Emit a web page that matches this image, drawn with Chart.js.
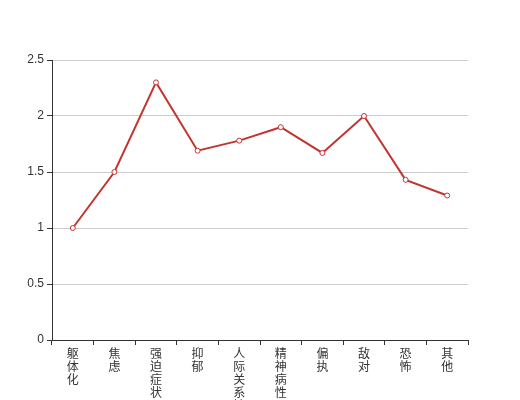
<!DOCTYPE html>
<html>
<head>
<meta charset="utf-8">
<script src="https://cdn.jsdelivr.net/npm/chart.js@4"></script>
<style>
html,body{margin:0;padding:0;background:#fff;}
canvas{display:block;}
</style>
</head>
<body>
<canvas id="c" width="520" height="400"></canvas>
<script>
const categories = ['躯体化','焦虑','强迫症状','抑郁','人际关系敏感','精神病性','偏执','敌对','恐怖','其他'];
const values = [1.0, 1.5, 2.3, 1.69, 1.78, 1.9, 1.67, 2.0, 1.43, 1.29];
const yTicks = [0, 0.5, 1, 1.5, 2, 2.5];

new Chart(document.getElementById('c'), {
  type: 'line',
  data: {
    labels: categories,
    datasets: [{
      data: values,
      borderColor: '#c23531',
      borderWidth: 2,
      backgroundColor: '#fff',
      pointBackgroundColor: '#fff',
      pointBorderColor: '#c23531',
      pointBorderWidth: 1,
      pointRadius: 2.5,
      tension: 0,
      fill: false
    }]
  },
  options: {
    responsive: false,
    animation: false,
    layout: { padding: { top: 60, right: 52, left: 0, bottom: 0 } },
    plugins: { legend: { display: false }, tooltip: { enabled: false } },
    scales: {
      x: {
        type: 'category',
        offset: true,
        afterFit: s => { s.height = 60; },
        border: { display: true, color: '#333', width: 1 },
        grid: { offset: true, drawOnChartArea: false, drawTicks: true, tickLength: 5, color: '#333', lineWidth: 1 },
        ticks: {
          autoSkip: false, maxRotation: 0, minRotation: 0, padding: 2,
          color: '#333',
          font: { family: '"Noto Sans CJK SC", sans-serif', size: 12, lineHeight: '13px' },
          callback: function(v) { return this.getLabelForValue(v).split(''); }
        }
      },
      y: {
        min: yTicks[0], max: yTicks[yTicks.length - 1],
        afterFit: s => { s.width = 52; },
        afterBuildTicks: s => { s.ticks = yTicks.map(v => ({ value: v })); },
        border: { display: true, color: '#333', width: 1 },
        grid: { color: '#ccc', lineWidth: 1, tickLength: 5, tickColor: '#333', drawTicks: true },
        ticks: {
          padding: 3, color: '#333',
          font: { family: 'sans-serif', size: 12 },
          callback: v => String(+v.toFixed(2))
        }
      }
    }
  }
});
</script>
</body>
</html>
